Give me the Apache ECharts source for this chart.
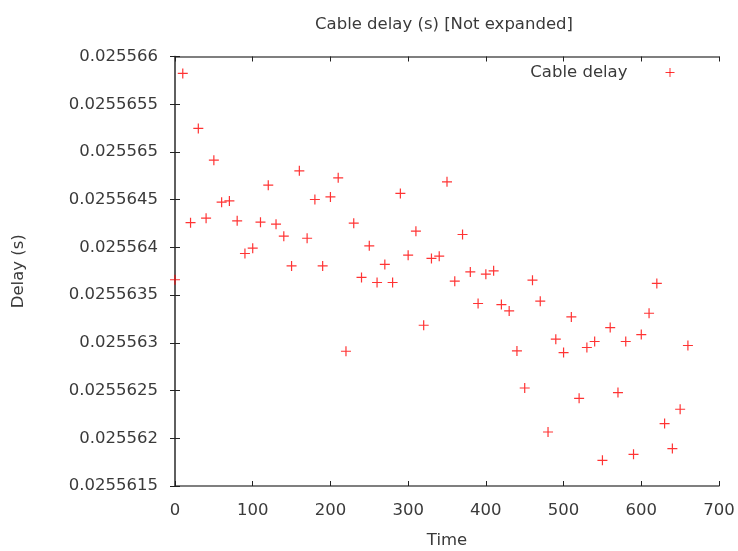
<!DOCTYPE html>
<html>
<head>
<meta charset="utf-8">
<script src="https://cdn.jsdelivr.net/npm/echarts@6/dist/echarts.min.js"></script>
<style>html,body{margin:0;padding:0;background:#fff;}#c{width:738px;height:551px;}</style>
</head>
<body>
<div id="c"></div>
<script>
const titleText = 'Cable delay (s) [Not expanded]';
const seriesName = 'Cable delay';
const xName = 'Time';
const yName = 'Delay (s)';
const times = [0,10,20,30,40,50,60,70,80,90,100,110,120,130,140,150,160,170,180,190,200,210,220,230,240,250,260,270,280,290,300,310,320,330,340,350,360,370,380,390,400,410,420,430,440,450,460,470,480,490,500,510,520,530,540,550,560,570,580,590,600,610,620,630,640,650,660];
const delays = [0.025563661,0.025565823,0.025564259,0.025565246,0.025564306,0.025564914,0.025564474,0.025564487,0.025564278,0.025563936,
0.025563992,0.025564264,0.025564652,0.025564243,0.025564117,0.025563806,0.025564802,0.025564096,0.025564502,0.025563806,
0.025564529,0.025564729,0.025562912,0.025564254,0.025563685,0.025564016,0.025563632,0.025563821,0.025563632,0.025564565,
0.025563918,0.025564170,0.025563184,0.025563884,0.025563908,0.025564687,0.025563646,0.025564135,0.025563743,0.025563412,
0.025563719,0.025563754,0.025563401,0.025563334,0.025562915,0.025562527,0.025563656,0.025563436,0.025562066,0.025563038,
0.025562898,0.025563271,0.025562419,0.025562951,0.025563014,0.025561769,0.025563160,0.025562479,0.025563014,0.025561832,
0.025563087,0.025563310,0.025563622,0.025562154,0.025561892,0.025562304,0.025562972];
const xTicks = {min: 0, max: 700, interval: 100};
const yTicks = {min: 0.0255615, max: 0.025566, interval: 0.0000005};

const font = 'DejaVu Sans';
const fs = 16.5;
const txt = '#3a3a3a';
const plus = 'path://M0,5L10,5M5,0L5,10';
const data = times.map((t, i) => [t, delays[i]]);

const chart = echarts.init(document.getElementById('c'), null, {renderer: 'canvas'});
const axisLine = {show: true, lineStyle: {color: '#555', width: 1.5}};
const tick = {show: true, inside: true, length: 5, lineStyle: {color: '#222', width: 1}};
chart.setOption({
  backgroundColor: '#fff',
  animation: false,
  title: {
    text: titleText, left: 439, top: 11, textAlign: 'center',
    textStyle: {fontFamily: font, fontSize: fs, fontWeight: 'normal', color: txt}
  },
  legend: {
    data: [{name: seriesName, icon: plus}],
    right: 58, top: 59, align: 'right', itemWidth: 9, itemHeight: 9,
    itemStyle: {color: 'rgba(0,0,0,0)', borderColor: '#ff0000', borderWidth: 1},
    textStyle: {fontFamily: font, fontSize: fs, color: txt, padding: [0, 33, 0, 0]}
  },
  grid: {left: 175, right: 19, top: 56.5, bottom: 65, containLabel: false, outerBoundsMode: 'none'},
  xAxis: [{
    type: 'value', min: xTicks.min, max: xTicks.max, interval: xTicks.interval,
    name: xName, nameLocation: 'middle', nameGap: 46,
    nameTextStyle: {fontFamily: font, fontSize: fs, color: txt},
    axisLine: axisLine, axisTick: tick, splitLine: {show: false},
    axisLabel: {fontFamily: font, fontSize: fs, color: txt, margin: 16}
  }, {
    type: 'value', position: 'top', min: xTicks.min, max: xTicks.max, interval: xTicks.interval,
    axisLine: axisLine, axisTick: tick, splitLine: {show: false}, axisLabel: {show: false}
  }],
  yAxis: [{
    type: 'value', min: yTicks.min, max: yTicks.max, interval: yTicks.interval,
    name: yName, nameLocation: 'middle', nameGap: 148, nameRotate: 90,
    nameTextStyle: {fontFamily: font, fontSize: fs, color: txt},
    axisLine: axisLine, axisTick: tick, splitLine: {show: false},
    axisLabel: {fontFamily: font, fontSize: fs, color: txt, margin: 17,
      formatter: v => String(parseFloat(Number(v).toPrecision(10)))}
  }, {
    type: 'value', position: 'right', min: yTicks.min, max: yTicks.max, interval: yTicks.interval,
    axisLine: axisLine, axisTick: tick, splitLine: {show: false}, axisLabel: {show: false}
  }],
  series: [{
    name: seriesName, type: 'scatter', data: data,
    symbol: plus, symbolSize: 10,
    itemStyle: {color: 'rgba(0,0,0,0)', borderColor: '#ff0000', borderWidth: 1.2}
  }]
});
</script>
</body>
</html>
